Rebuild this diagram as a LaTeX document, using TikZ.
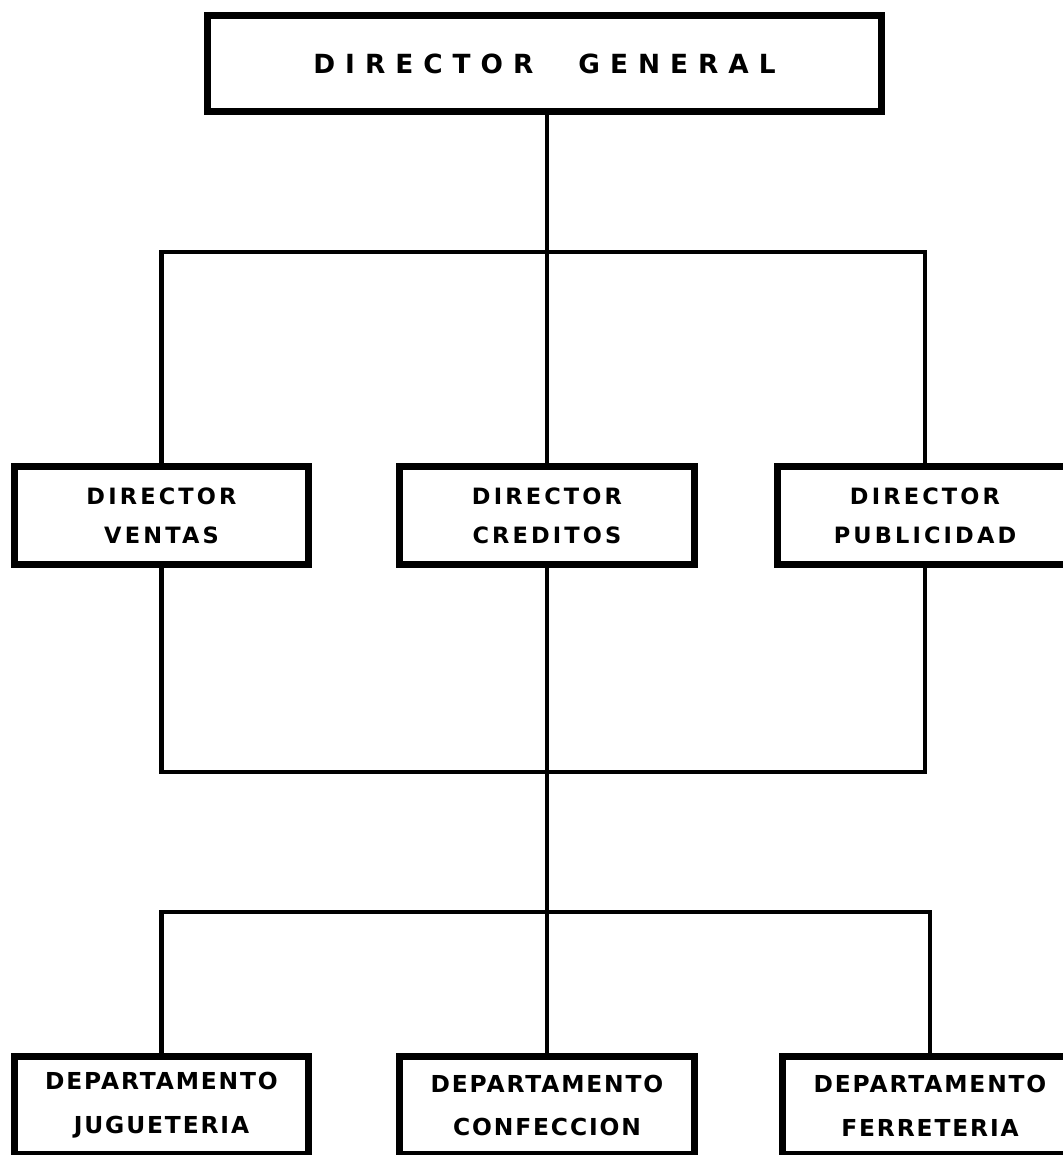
\documentclass[tikz,border=0pt]{standalone}
\usepackage{fontspec}
\setmainfont{DejaVu Sans}
\newfontfamily\rotulo[LetterSpace=14]{DejaVu Sans}
\newfontfamily\rotulodep[LetterSpace=8]{DejaVu Sans}
\newfontfamily\rotulojefe[LetterSpace=38]{DejaVu Sans}
\tikzset{
  cargo/.style={draw, line width=4pt, minimum width=5.9cm, minimum height=1.96cm,
    align=center, inner sep=0pt, font=\rotulo\bfseries\fontsize{12.8}{22}\selectfont},
  depto/.style={cargo, font=\rotulodep\bfseries\fontsize{13.3}{25}\selectfont},
  jefe/.style={cargo, minimum width=13.48cm, minimum height=1.92cm,
    font=\rotulojefe\bfseries\fontsize{15}{25}\selectfont},
  linea/.style={line width=2.3pt}
}
\begin{document}
\begin{tikzpicture}[x=0.02cm,y=-0.02cm]
\useasboundingbox (0,0) rectangle (1062,1155);

\node[jefe] (dg) at (544.5,63.5) {DIRECTOR\hspace{0.9cm}GENERAL};

\node[cargo] (ventas) at (161.5,515.5) {DIRECTOR\\VENTAS};
\node[cargo] (creditos) at (547,515.5) {DIRECTOR\\CREDITOS};
\node[cargo] (publicidad) at (925,515.5) {DIRECTOR\\PUBLICIDAD};

\node[depto] (jugueteria) at (161.5,1105.5) {DEPARTAMENTO\\JUGUETERIA};
\node[depto] (confeccion) at (547,1105.5) {DEPARTAMENTO\\CONFECCION};
\node[depto] (ferreteria) at (930,1105.5) {DEPARTAMENTO\\FERRETERIA};

\coordinate (barraA) at (547,252);
\coordinate (barraB) at (547,772);
\coordinate (barraC) at (547,912);

\draw[linea] (dg.south -| barraA) -- (barraA);
\draw[linea] (ventas.north) |- (barraA) -| (publicidad.north);
\draw[linea] (barraA) -- (creditos.north);

\draw[linea] (ventas.south) |- (barraB) -| (publicidad.south);
\draw[linea] (creditos.south) -- (confeccion.north);

\draw[linea] (jugueteria.north) |- (barraC) -| (ferreteria.north);

\end{tikzpicture}
\end{document}
